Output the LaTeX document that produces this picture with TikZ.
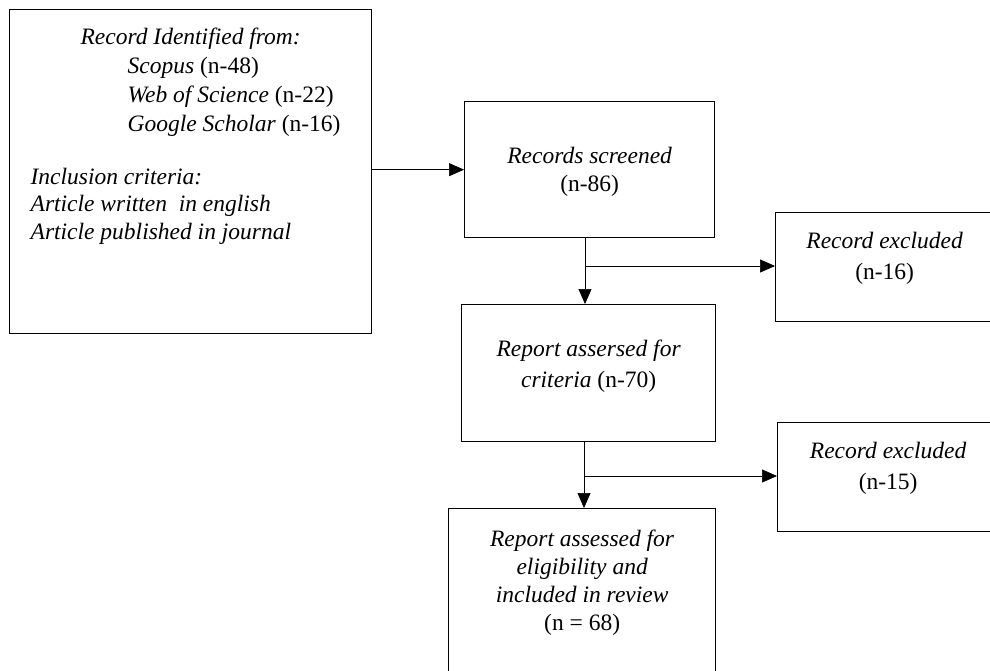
\documentclass[tikz,border=0pt]{standalone}
\usepackage{fontspec}
\setmainfont{Liberation Serif}
\usetikzlibrary{arrows.meta}

% width, height, top gap, lines
\newcommand{\boxtext}[4]{\parbox[t][#2][t]{#1}{\centering\vspace*{#3}#4}}

\begin{document}
\begin{tikzpicture}[x=1pt, y=-1pt,
    flow_box/.style={draw, line width=1.3pt, inner sep=0pt, anchor=north west, font=\fontsize{23.5}{28}\selectfont},
    flow_arrow/.style={line width=0.7pt, -{Triangle[length=15pt,width=13pt]}}]

    \useasboundingbox (0,0) rectangle (990,670);
    \clip (0,0) rectangle (990,670);

    \node[flow_box] (b1) at (9,9) {\parbox[t][324pt][t]{362pt}{\vspace*{18pt}%
        \fontsize{23.5}{29}\selectfont
        \centering\textit{Record Identified from:}\par
        \raggedright
        \hspace*{118pt}\textit{Scopus} (n-48)\par
        \hspace*{118pt}\textit{Web of Science} (n-22)\par
        \hspace*{118pt}\textit{Google Scholar} (n-16)\par
        \fontsize{23.5}{27.5}\selectfont\vspace{25.5pt}
        \hspace*{21pt}\textit{Inclusion criteria:}\par
        \hspace*{21pt}\textit{Article written \ in english}\par
        \hspace*{21pt}\textit{Article published in journal}\par}};
    \node[flow_box] (b2) at (464,101) {\boxtext{250pt}{136pt}{46pt}{\textit{Records screened}\\(n-86)}};
    \node[flow_box] (b3) at (775,212) {\boxtext{218pt}{109pt}{20pt}{\textit{Record excluded}\\[3pt](n-16)}};
    \node[flow_box] (b4) at (461,304) {\boxtext{254pt}{137pt}{35pt}{\textit{Report assersed for}\\[3pt]\textit{criteria} (n-70)}};
    \node[flow_box] (b5) at (777,422) {\boxtext{221pt}{109pt}{20pt}{\textit{Record excluded}\\[3pt](n-15)}};
    \node[flow_box] (b6) at (448,508) {\boxtext{267pt}{170pt}{21pt}{\textit{Report assessed for}\\\textit{eligibility and}\\\textit{included in review}\\(n = 68)}};

    \coordinate (j1) at (585,266);
    \coordinate (j2) at (584,476);

    \draw[flow_arrow] (b1.east |- b2.west) -- (b2.west);
    \draw[flow_arrow] (b2.south -| j1) -- (b4.north -| j1);
    \draw[flow_arrow] (j1) -- (j1 -| b3.west);
    \draw[flow_arrow] (b4.south -| j2) -- (b6.north -| j2);
    \draw[flow_arrow] (j2) -- (j2 -| b5.west);

\end{tikzpicture}
\end{document}
